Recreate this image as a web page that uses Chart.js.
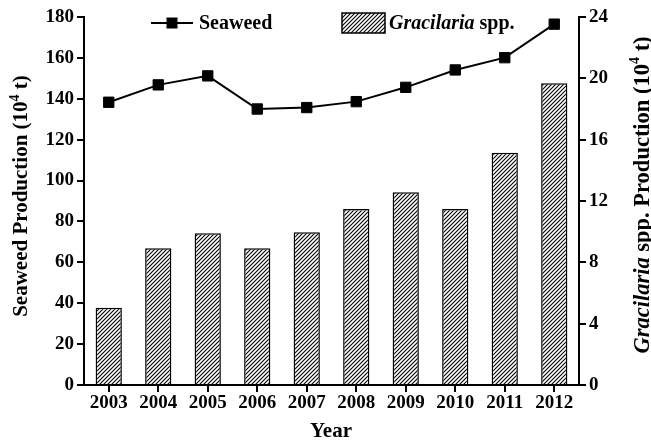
<!DOCTYPE html>
<html>
<head>
<meta charset="utf-8">
<script src="https://cdn.jsdelivr.net/npm/chart.js@4"></script>
<style>
  html, body { margin: 0; padding: 0; background: #fff; }
  #grafico { display: block; }
</style>
</head>
<body>
<canvas id="grafico" width="651" height="442"></canvas>
<script>
const years = ['2003', '2004', '2005', '2006', '2007', '2008', '2009', '2010', '2011', '2012'];
// seaweed production, 10^4 t (left axis)
const seaweed = [138.3, 146.8, 151.2, 135.0, 135.7, 138.6, 145.6, 154.1, 160.1, 176.5];
// Gracilaria spp. production, 10^4 t (right axis)
const gracilaria = [5.04, 8.92, 9.9, 8.92, 9.96, 11.48, 12.57, 11.48, 15.15, 19.68];

const serif = '"Liberation Serif", "Times New Roman", serif';

const hatchPattern = () => {
  const s = 4;
  const c = document.createElement('canvas');
  c.width = s; c.height = s;
  const g = c.getContext('2d');
  g.fillStyle = '#fff';
  g.fillRect(0, 0, s, s);
  g.strokeStyle = '#000';
  g.lineWidth = 1.1;
  g.beginPath();
  g.moveTo(0, s); g.lineTo(s, 0);
  g.moveTo(-1, 1); g.lineTo(1, -1);
  g.moveTo(s - 1, s + 1); g.lineTo(s + 1, s - 1);
  g.stroke();
  return g.createPattern(c, 'repeat');
};

// draw a sequence of text pieces centred at (cx, cy), optionally rotated
const drawRuns = (ctx, runs, cx, cy, angle) => {
  ctx.save();
  ctx.translate(cx, cy);
  ctx.rotate(angle || 0);
  ctx.textBaseline = 'middle';
  ctx.textAlign = 'left';
  ctx.fillStyle = '#000';
  let total = 0;
  runs.forEach(r => { ctx.font = r.font; total += ctx.measureText(r.text).width; });
  let x = -total / 2;
  runs.forEach(r => {
    ctx.font = r.font;
    ctx.fillText(r.text, x, r.dy || 0);
    x += ctx.measureText(r.text).width;
  });
  ctx.restore();
};

const extras = {
  id: 'extras',
  afterDraw(chart) {
    const ctx = chart.ctx;
    const b = 'bold 20px ' + serif;
    const bi = 'italic bold 20px ' + serif;
    const t = 'bold 21px ' + serif;
    const r = 'bold 22.5px ' + serif;
    const ri = 'italic bold 22.5px ' + serif;
    const sup = 'bold 14px ' + serif;

    // legend: line series
    ctx.save();
    ctx.strokeStyle = '#000';
    ctx.lineWidth = 2;
    ctx.beginPath();
    ctx.moveTo(151, 23); ctx.lineTo(193, 23);
    ctx.stroke();
    ctx.fillStyle = '#000';
    ctx.fillRect(166.5, 17.5, 11, 11);
    ctx.font = b;
    ctx.textBaseline = 'middle';
    ctx.fillText('Seaweed', 199, 24);

    // legend: bar series
    ctx.lineWidth = 1.5;
    ctx.fillStyle = hatchPattern();
    ctx.fillRect(342, 13, 43, 20);
    ctx.strokeRect(342, 13, 43, 20);
    ctx.fillStyle = '#000';
    ctx.font = bi;
    ctx.fillText('Gracilaria', 389, 24);
    const w = ctx.measureText('Gracilaria').width;
    ctx.font = b;
    ctx.fillText(' spp.', 389 + w, 24);
    ctx.restore();

    // axis titles
    drawRuns(ctx, [
      {text: 'Seaweed Production (10', font: t},
      {text: '4', font: sup, dy: -7},
      {text: ' t)', font: t}
    ], 22, 196, -Math.PI / 2);
    drawRuns(ctx, [
      {text: 'Gracilaria', font: ri},
      {text: ' spp. Production (10', font: r},
      {text: '4', font: sup, dy: -8},
      {text: ' t)', font: r}
    ], 643, 195, -Math.PI / 2);
    drawRuns(ctx, [{text: 'Year', font: t}], 331, 432, 0);
  }
};

const tickFont = {family: serif, size: 19, weight: 'bold'};
const axisGrid = {
  display: true,
  drawOnChartArea: false,
  color: '#000',
  lineWidth: 2,
  tickLength: 7
};

const config = {
  type: 'bar',
  data: {
    labels: years,
    datasets: [
      {
        type: 'line',
        label: 'Seaweed',
        data: seaweed,
        yAxisID: 'y',
        borderColor: '#000',
        borderWidth: 2,
        backgroundColor: '#000',
        pointStyle: 'rect',
        pointRadius: 7.3,
        pointBorderWidth: 1,
        tension: 0,
        order: 0
      },
      {
        type: 'bar',
        label: 'Gracilaria spp.',
        data: gracilaria,
        yAxisID: 'y1',
        backgroundColor: hatchPattern(),
        borderColor: '#000',
        borderWidth: 1.5,
        barPercentage: 0.53,
        categoryPercentage: 1,
        order: 1
      }
    ]
  },
  options: {
    responsive: false,
    devicePixelRatio: 1,
    animation: false,
    layout: {padding: {top: 17, left: 0, right: 0, bottom: 0}},
    plugins: {
      legend: {display: false},
      tooltip: {enabled: false}
    },
    scales: {
      x: {
        offset: true,
        grid: Object.assign({}, axisGrid, {offset: false}),
        border: {color: '#000', width: 2},
        ticks: {font: tickFont, color: '#000', padding: 0, maxRotation: 0},
        afterFit: s => { s.height = 57; }
      },
      y: {
        position: 'left',
        min: 0,
        max: 180,
        grid: axisGrid,
        border: {color: '#000', width: 2},
        ticks: {stepSize: 20, font: tickFont, color: '#000', padding: 3},
        afterFit: s => { s.width = 84; }
      },
      y1: {
        position: 'right',
        min: 0,
        max: 24,
        grid: axisGrid,
        border: {color: '#000', width: 2},
        ticks: {stepSize: 4, font: tickFont, color: '#000', padding: 3},
        afterFit: s => { s.width = 72; }
      }
    }
  },
  plugins: [extras]
};

const myChart = new Chart(document.getElementById('grafico'), config);
</script>
</body>
</html>
